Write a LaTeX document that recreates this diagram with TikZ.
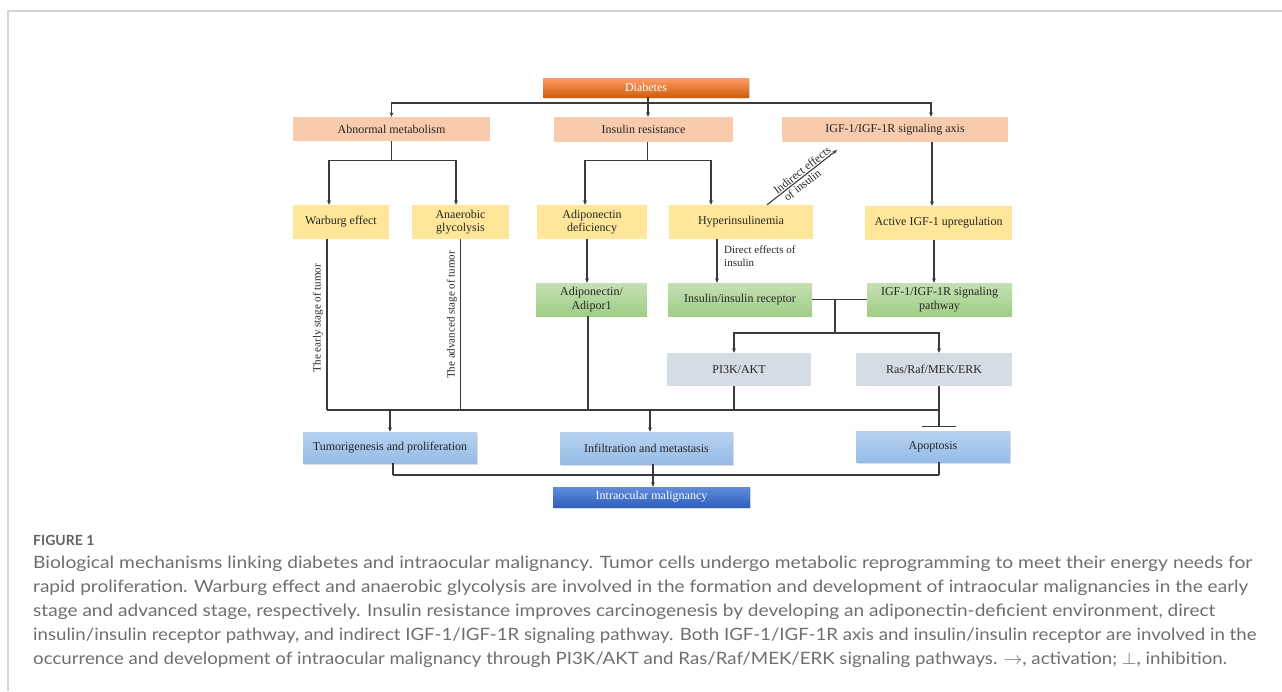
\documentclass[tikz,border=0pt]{standalone}
\usepackage{fontspec}
\setmainfont{Liberation Serif}
\newfontfamily\capfont{Lato}
\usetikzlibrary{arrows.meta,shadows}
\definecolor{lnc}{HTML}{3A3A3A}
\definecolor{peach}{HTML}{F8CBAD}
\definecolor{yel}{HTML}{FFE699}
\definecolor{grb}{HTML}{D6DCE5}
\definecolor{capc}{HTML}{6E6F71}
\definecolor{frm}{HTML}{D4D4D4}
\tikzset{
  box/.style={draw=none, inner sep=1pt, align=center, font=\fontsize{12}{13.5}\selectfont, text=black!85},
  shad/.style={drop shadow={opacity=0.25, shadow xshift=1pt, shadow yshift=-1.5pt}},
  orangebox/.style={box, shad, top color=orange!70!red!60!white, bottom color=orange!85!red!80!black!95, text=white},
  peachbox/.style={box, fill=peach},
  yellowbox/.style={box, fill=yel},
  greenbox/.style={box, top color={rgb,255:red,197;green,224;blue,180}, bottom color={rgb,255:red,160;green,205;blue,132}},
  greybox/.style={box, fill=grb},
  bluebox/.style={box, shad, top color={rgb,255:red,183;green,210;blue,240}, bottom color={rgb,255:red,150;green,188;blue,230}},
  darkbluebox/.style={box, shad, top color={rgb,255:red,96;green,140;blue,218}, bottom color={rgb,255:red,46;green,96;blue,188}, text=white},
  conn/.style={draw=lnc, line width=1.1pt},
  arr/.style={conn, -{Stealth[length=4.5pt,width=3.8pt]}},
  inh/.style={conn, -{Bar[width=34pt,line width=1.1pt]}},
  lbl/.style={font=\fontsize{11}{13}\selectfont, text=black!85, inner sep=0pt},
  stagelbl/.style={font=\fontsize{11}{12}\selectfont, text=black!85, inner sep=0pt, rotate=90},
  captext/.style={font=\capfont\fontsize{17}{20}\selectfont, text=capc, anchor=base west, inner sep=0pt}
}
\newcommand{\capline}[2]{\resizebox{#1pt}{\height}{#2}}
\begin{document}
\begin{tikzpicture}[x=1pt,y=-1pt]
\useasboundingbox (0,0) rectangle (1282,691);
\fill[white] (0,0) rectangle (1282,691);
% frame
\draw[frm, line width=1.5pt] (8,691) -- (8,11) -- (1282,11);

% nodes
\node[orangebox, minimum width=206pt, minimum height=19pt] (dia) at (646,87.5) {Diabetes};
\node[peachbox, minimum width=197pt, minimum height=24pt] (abn) at (391.5,129) {Abnormal metabolism};
\node[peachbox, minimum width=179pt, minimum height=25pt] (ir) at (643.5,129.5) {Insulin resistance};
\node[peachbox, minimum width=226pt, minimum height=25pt] (igf) at (895,129.5) {IGF-1/IGF-1R signaling axis};

\node[yellowbox, minimum width=96pt, minimum height=34pt] (war) at (341,222) {Warburg effect};
\node[yellowbox, minimum width=97pt, minimum height=34pt] (ana) at (460.5,222) {Anaerobic\\glycolysis};
\node[yellowbox, minimum width=110pt, minimum height=34pt] (adi) at (592,222) {Adiponectin\\deficiency};
\node[yellowbox, minimum width=144pt, minimum height=34pt] (hyp) at (741,222) {Hyperinsulinemia};
\node[yellowbox, minimum width=147pt, minimum height=34pt] (act) at (938.5,223) {Active IGF-1 upregulation};

\node[greenbox, minimum width=111pt, minimum height=33pt] (adp) at (591.5,299.5) {Adiponectin/\\Adipor1};
\node[greenbox, minimum width=144pt, minimum height=33pt] (irc) at (740,299.5) {Insulin/insulin receptor};
\node[greenbox, minimum width=145pt, minimum height=33pt] (igp) at (939.5,299.5) {IGF-1/IGF-1R signaling\\pathway};

\node[greybox, minimum width=144pt, minimum height=33pt] (pi3) at (739,369.5) {PI3K/AKT};
\node[greybox, minimum width=156pt, minimum height=33pt] (ras) at (934,369.5) {Ras/Raf/MEK/ERK};

\node[bluebox, minimum width=174pt, minimum height=31pt] (tum) at (390,447.5) {Tumorigenesis and proliferation};
\node[bluebox, minimum width=173pt, minimum height=32pt] (inf) at (646.5,448) {Infiltration and metastasis};
\node[bluebox, minimum width=154pt, minimum height=31pt] (apo) at (933,446.5) {Apoptosis};

\node[darkbluebox, minimum width=197pt, minimum height=20pt] (intra) at (651.5,497) {Intraocular malignancy};

% coordinates
\coordinate (top) at (648,103);
\coordinate (busL) at (327,410);
\coordinate (busR) at (939,410);
\coordinate (bot) at (653,475);
\coordinate (jn) at (835,300);
\coordinate (indend) at (837,150);

% Diabetes to level 1
\draw[conn] (dia.south -| top) -- (top);
\draw[arr] (top) -| (abn.north);
\draw[arr] (top) -- (ir.north -| top);
\draw[arr] (top) -| (igf.north -| 931,0);

% Abnormal metabolism
\draw[conn] (abn.south) -- ++(0,19) coordinate (a1);
\draw[arr] (a1) -| ([xshift=-12pt]war.north);
\draw[arr] (a1) -| ([xshift=-4.5pt]ana.north);

% Insulin resistance
\draw[conn] ([xshift=4pt]ir.south) -- ++(0,18.5) coordinate (i1);
\draw[arr] (i1) -| ([xshift=-7pt]adi.north);
\draw[arr] (i1) -| ([xshift=-30pt]hyp.north);

% IGF axis
\draw[arr] (igf.south -| 932,0) -- (act.north -| 932,0);

% indirect effects
\draw[arr] ([xshift=26pt]hyp.north) -- 
  node[lbl, sloped, pos=0.55, above=1pt, font=\fontsize{11.5}{13}\selectfont] (ind1) {Indirect effects}
  node[lbl, sloped, pos=0.45, below=1.5pt, font=\fontsize{11.5}{13}\selectfont] (ind2) {of insulin} (indend);

% level 2 to 3
\draw[arr] ([xshift=-5pt]adi.south) -- ([xshift=-4.5pt]adp.north);
\draw[arr] ([xshift=-24pt]hyp.south) -- ([xshift=-23pt]irc.north);
\node[lbl, anchor=north west, align=left] (dir) at (724,246) {Direct effects of\\insulin};
\draw[arr] ([xshift=-4.5pt]act.south) -- ([xshift=-5.5pt]igp.north);

% stage lines
\draw[conn] ([xshift=-14pt]war.south) -- (busL);
\node[stagelbl] (early) at (318,318) {The early stage of tumor};
\draw[conn] (ana.south) -- (ana.south |- busL);
\node[stagelbl] (adv) at (452,315) {The advanced stage of tumor};
\draw[conn] ([xshift=-3.5pt]adp.south) -- ([xshift=-3.5pt]adp.south |- busL);

% receptor junction
\draw[conn] (irc.east) -- (igp.west);
\draw[conn] (jn) -- (835,333) coordinate (j2);
\draw[arr] (j2) -| ([xshift=-5pt]pi3.north);
\draw[arr] (j2) -| ([xshift=5pt]ras.north);
\draw[conn] ([xshift=-5pt]pi3.south) -- ([xshift=-5pt]pi3.south |- busL);
\draw[conn] ([xshift=5pt]ras.south) -- (busR);
\draw[inh] (busR) -- (939,427);

% bus
\draw[conn] (busL) -- (busR);
\draw[arr] (busL -| tum.north) -- (tum.north);
\draw[arr] (650,410) -- (inf.north -| 650,0);

% bottom
\draw[conn] ([xshift=3pt]tum.south) -- ([xshift=3pt]tum.south |- bot);
\draw[conn] ([xshift=6pt]apo.south) -- ([xshift=6pt]apo.south |- bot);
\draw[conn] ([xshift=3pt]tum.south |- bot) -- ([xshift=6pt]apo.south |- bot);
\draw[arr] (inf.south -| bot) -- (intra.north -| bot);

% caption
\node[captext, font=\capfont\bfseries\fontsize{14}{16}\selectfont, text=capc!90!black] (fig) at (33,545) {FIGURE 1};
\node[captext] (c1) at (33,568) {\capline{1219}{Biological mechanisms linking diabetes and intraocular malignancy. Tumor cells undergo metabolic reprogramming to meet their energy needs for}};
\node[captext] (c2) at (33,592) {\capline{1215}{rapid proliferation. Warburg effect and anaerobic glycolysis are involved in the formation and development of intraocular malignancies in the early}};
\node[captext] (c3) at (33,616) {\capline{1182}{stage and advanced stage, respectively. Insulin resistance improves carcinogenesis by developing an adiponectin-deficient environment, direct}};
\node[captext] (c4) at (33,640) {\capline{1223}{insulin/insulin receptor pathway, and indirect IGF-1/IGF-1R signaling pathway. Both IGF-1/IGF-1R axis and insulin/insulin receptor are involved in the}};
\node[captext] (c5) at (33,664) {\capline{1194}{occurrence and development of intraocular malignancy through PI3K/AKT and Ras/Raf/MEK/ERK signaling pathways. $\rightarrow$, activation; $\perp$, inhibition.}};
\end{tikzpicture}
\end{document}
